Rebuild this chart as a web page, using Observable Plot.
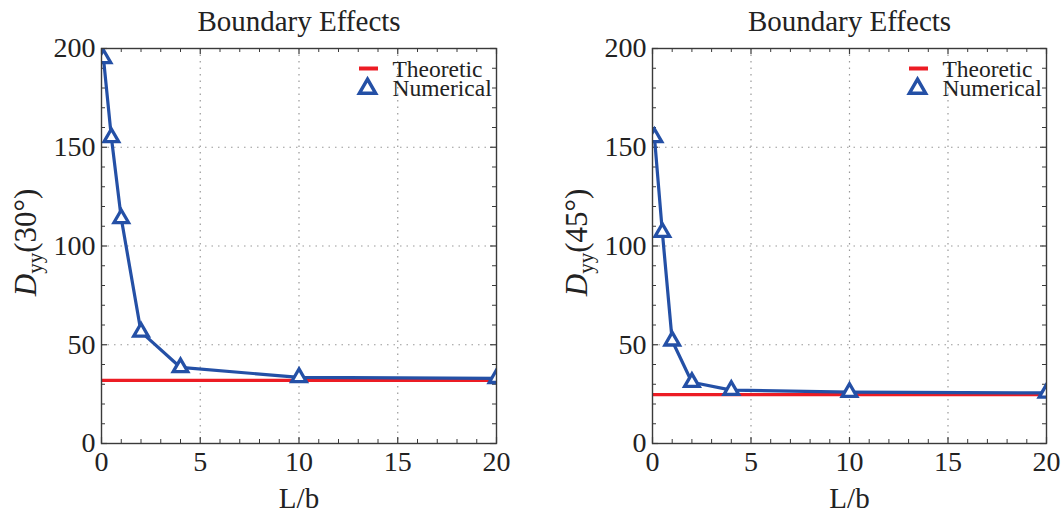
<!DOCTYPE html>
<html><head><meta charset="utf-8">
<script src="https://cdn.jsdelivr.net/npm/d3@7"></script>
<script src="https://cdn.jsdelivr.net/npm/@observablehq/plot@0.6"></script>
<style>
body{margin:0;background:#fff;}
#row{display:flex;width:1064px;height:519px;}
</style></head><body><div id="row"></div>
<script>
// ---- data ----
const lb = [0.1, 0.5, 1, 2, 4, 10, 20];
const dyy30 = [195, 155, 114, 56.5, 38.5, 33.5, 33];
const dyy45 = [155, 107, 52, 31, 27, 26, 25.6];
const theo30 = 32;
const theo45 = 24.7;
const xTicks = [0, 5, 10, 15, 20];
const yTicks = [0, 50, 100, 150, 200];
const xMinor = [1, 2, 3, 4, 6, 7, 8, 9, 11, 12, 13, 14, 16, 17, 18, 19];
const yMinor = [10, 20, 30, 40, 60, 70, 80, 90, 110, 120, 130, 140, 160, 170, 180, 190];
const xGrid = [5, 10, 15];
const yGrid = [50, 100, 150];
const title = "Boundary Effects";
const xLabel = "L/b";
const angles = ["30°", "45°"];
const seriesNames = ["Theoretic", "Numerical"];

const BLUE = "#2450a6", RED = "#ec1c24", AX = "#3a3a3a";
const FONT = "'Liberation Serif', 'Times New Roman', serif";
const hline = {draw(ctx, size) { const r = Math.sqrt(size / Math.PI); ctx.moveTo(-r, 0); ctx.lineTo(r, 0); }};

function panel(values, theo, angle, ml, mr) {
  const W = 532, H = 519, mt = 48, mb = 76;
  const innerW = W - ml - mr, innerH = H - mt - mb;
  const pts = lb.map((x, i) => ({x, y: values[i]}));
  const svg = Plot.plot({
    width: W, height: H,
    marginLeft: ml, marginRight: mr, marginTop: mt, marginBottom: mb,
    x: {domain: [0, 20]},
    y: {domain: [0, 200]},
    style: {fontFamily: FONT, fontSize: "28px", color: "#222", background: "white", overflow: "visible"},
    marks: [
      Plot.gridX(xGrid, {stroke: "#999", strokeOpacity: 1, strokeDasharray: "1.5,5", strokeWidth: 1.2}),
      Plot.gridY(yGrid, {stroke: "#999", strokeOpacity: 1, strokeDasharray: "1.5,5", strokeWidth: 1.2}),
      Plot.ruleX(xTicks, {insetTop: innerH - 6, stroke: AX, strokeWidth: 1.2}),
      Plot.ruleX(xTicks, {insetBottom: innerH - 6, stroke: AX, strokeWidth: 1.2}),
      Plot.ruleX(xMinor, {insetTop: innerH - 4, stroke: AX, strokeWidth: 1}),
      Plot.ruleX(xMinor, {insetBottom: innerH - 4, stroke: AX, strokeWidth: 1}),
      Plot.ruleY(yTicks, {insetRight: innerW - 6, stroke: AX, strokeWidth: 1.2}),
      Plot.ruleY(yTicks, {insetLeft: innerW - 6, stroke: AX, strokeWidth: 1.2}),
      Plot.ruleY(yMinor, {insetRight: innerW - 4, stroke: AX, strokeWidth: 1}),
      Plot.ruleY(yMinor, {insetLeft: innerW - 4, stroke: AX, strokeWidth: 1}),
      Plot.ruleY([theo], {stroke: RED, strokeWidth: 3.2}),
      Plot.line(pts, {x: "x", y: "y", stroke: BLUE, strokeWidth: 3.2, clip: true}),
      Plot.dot(pts, {x: "x", y: "y", symbol: "triangle", r: 5.4, stroke: BLUE, strokeWidth: 3.3, fill: "white", clip: true}),
      Plot.frame({stroke: AX, strokeWidth: 1.4}),
      Plot.axisX(xTicks, {tickSize: 0, tickPadding: 8, fontSize: 28, label: null, fill: "#222"}),
      Plot.axisY(yTicks, {tickSize: 0, tickPadding: 6, fontSize: 28, label: null, fill: "#222"}),
      Plot.text([title], {text: d => d, frameAnchor: "top", lineAnchor: "middle", dy: -27, fontSize: 29, fill: "#222"}),
      Plot.text([xLabel], {text: d => d, frameAnchor: "bottom", lineAnchor: "middle", dy: 55, fontSize: 29, fill: "#222"}),
      // legend
      Plot.dot([seriesNames[0]], {frameAnchor: "top-right", dx: -128, dy: 20, symbol: hline, r: 9.5, stroke: RED, strokeWidth: 4, fill: "none"}),
      Plot.dot([seriesNames[1]], {frameAnchor: "top-right", dx: -129, dy: 40, symbol: "triangle", r: 6, stroke: BLUE, strokeWidth: 3.5, fill: "white"}),
      Plot.text([seriesNames[0]], {text: d => d, frameAnchor: "top-right", lineAnchor: "middle", textAnchor: "start", dx: -104, dy: 20.5, fontSize: 23.5, fill: "#222"}),
      Plot.text([seriesNames[1]], {text: d => d, frameAnchor: "top-right", lineAnchor: "middle", textAnchor: "start", dx: -104, dy: 39.5, fontSize: 23.5, fill: "#222"})
    ]
  });
  const t = d3.select(svg).append("text")
    .attr("transform", `translate(${ml - 65},${mt + innerH / 2 - 3}) rotate(-90)`)
    .attr("text-anchor", "middle")
    .attr("font-family", FONT)
    .attr("font-size", 31)
    .attr("fill", "#222");
  t.append("tspan").attr("font-style", "italic").text("D");
  t.append("tspan").attr("font-size", 21).attr("dy", 6).text("yy");
  t.append("tspan").attr("dy", -6).text("(" + angle + ")");
  return svg;
}

const row = document.getElementById("row");
row.appendChild(panel(dyy30, theo30, angles[0], 101, 36));
row.appendChild(panel(dyy45, theo45, angles[1], 120, 18));
</script>
</body></html>
